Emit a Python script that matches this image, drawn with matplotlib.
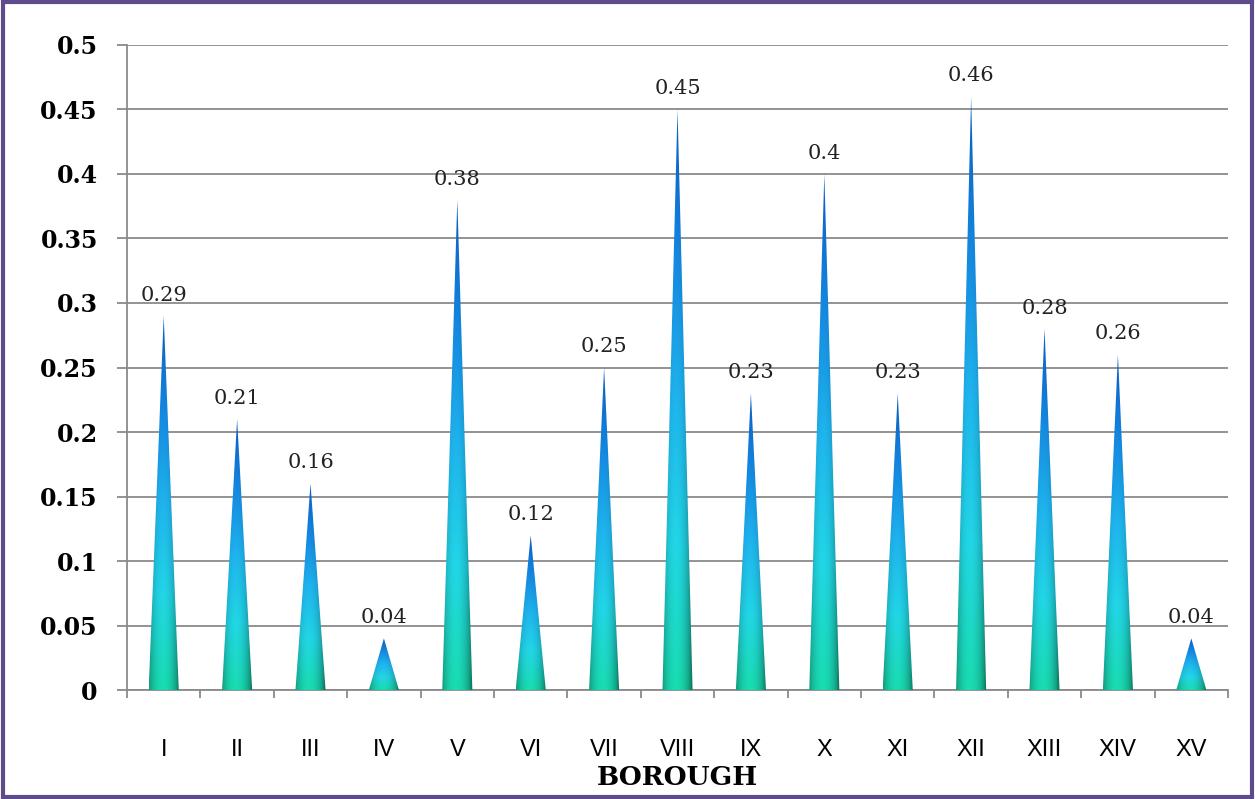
import numpy as np
import matplotlib.pyplot as plt
from matplotlib.patches import Polygon, Rectangle
from matplotlib.colors import LinearSegmentedColormap

# ----------------------------- DATA ------------------------------------------
BOROUGHS = ["I", "II", "III", "IV", "V", "VI", "VII", "VIII",
            "IX", "X", "XI", "XII", "XIII", "XIV", "XV"]
VALUES = [0.29, 0.21, 0.16, 0.04, 0.38, 0.12, 0.25, 0.45,
          0.23, 0.4, 0.23, 0.46, 0.28, 0.26, 0.04]
Y_TICKS = [0, 0.05, 0.1, 0.15, 0.2, 0.25, 0.3, 0.35, 0.4, 0.45, 0.5]

# ----------------------------- STYLE -----------------------------------------
GRID = "#8a8a8a"
FRAME = "#5e4b8b"
CONE_W = 0.41
SERIF = "DejaVu Serif"

# vertical colour ramp along each cone (bottom -> tip)
ramp = LinearSegmentedColormap.from_list(
    "cone", ["#19dcb0", "#22d6e6", "#1fb4ee", "#1487e0", "#0a5cc4"])


def cone_image(nx=60, ny=200):
    """RGB image: vertical ramp times a cylinder-like horizontal shading."""
    t = np.linspace(0, 1, ny)[:, None]
    u = np.linspace(-1, 1, nx)[None, :]
    base = ramp(np.repeat(t, nx, axis=1))[..., :3]
    shade = 0.55 + 0.45 * np.cos(np.clip(u + 0.1, -1, 1) * np.pi / 2) ** 0.6
    img = base * shade[..., None]
    return np.clip(img, 0, 1)


fig = plt.figure(figsize=(12.55, 7.99), dpi=100)
ax = fig.add_axes([0.1012, 0.1364, 0.8773, 0.8073])

img = cone_image()
for i, v in enumerate(VALUES):
    x0, x1 = i - CONE_W / 2, i + CONE_W / 2
    tri = Polygon([(x0, 0), (i, v), (x1, 0)], closed=True,
                  facecolor="none", edgecolor="none", transform=ax.transData)
    ax.add_patch(tri)
    im = ax.imshow(img, extent=[x0, x1, 0, v], origin="lower",
                   aspect="auto", interpolation="bilinear", zorder=3)
    im.set_clip_path(tri)
    ax.annotate(f"{v:g}", xy=(i, v), xytext=(0, 8), textcoords="offset points",
                ha="center", va="bottom", fontsize=15,
                family=SERIF, color="#222222", zorder=4)

ax.set_xlim(-0.5, len(BOROUGHS) - 0.5)
ax.set_ylim(0, 0.5)

# grid and axes
ax.set_yticks(Y_TICKS)
ax.set_yticklabels([f"{y:g}" for y in Y_TICKS], family=SERIF,
                   fontsize=17, fontweight="bold")
ax.yaxis.grid(True, color=GRID, lw=1.3)
ax.set_axisbelow(True)
for s in ("top", "right"):
    ax.spines[s].set_visible(False)
for s in ("left", "bottom"):
    ax.spines[s].set_color(GRID)
    ax.spines[s].set_linewidth(1.3)
ax.tick_params(axis="y", length=7, width=1.3, color=GRID, pad=14)

# x ticks at category boundaries, labels at centres
ax.set_xticks(np.arange(-0.5, len(BOROUGHS)), labels=[""] * (len(BOROUGHS) + 1))
ax.set_xticks(np.arange(len(BOROUGHS)), labels=BOROUGHS, minor=True)
ax.tick_params(axis="x", which="major", direction="out", length=6, width=1.3, color=GRID)
ax.tick_params(axis="x", which="minor", length=0, pad=35, labelsize=17)
for lab in ax.get_xticklabels(minor=True):
    lab.set_family("Liberation Sans")

ax.set_xlabel("BOROUGH", family=SERIF, fontsize=19,
              fontweight="bold", labelpad=3)

# purple frame around the whole picture
fig.patches.append(Rectangle((0.002, 0.003), 0.996, 0.994, transform=fig.transFigure,
                             fill=False, edgecolor=FRAME, lw=3))

fig.savefig("out.png", dpi=100, facecolor="white")
